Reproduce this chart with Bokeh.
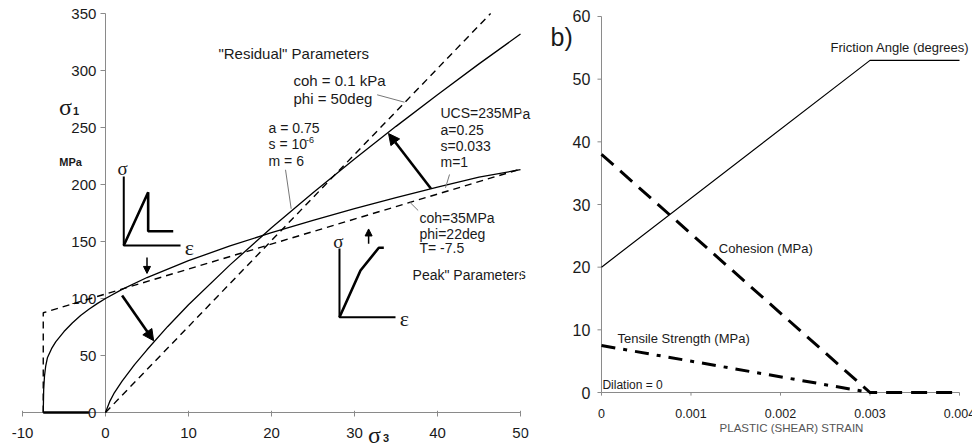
from bokeh.plotting import figure
from bokeh.layouts import row
from bokeh.models import Range1d, Arrow, NormalHead, ColumnDataSource
from bokeh.core.properties import value
from bokeh.embed import file_html
from bokeh.resources import INLINE

# ---------------- panel a) data (sigma3, sigma1 in MPa) ----------------
a_xticks = [-10, 0, 10, 20, 30, 40, 50]
a_xlabels = ["-10", "0", "10", "20", "30", "40", "50"]
a_yticks = [0, 50, 100, 150, 200, 250, 300, 350]
a_ylabels = ["0", "50", "100", "150", "200", "250", "300", "350"]

# peak Mohr-Coulomb (coh=35MPa, phi=22deg, T=-7.5)
mc_peak_s3 = [-7.5, -7.5, 50]
mc_peak_s1 = [0, 87.5, 213.5]
# residual Mohr-Coulomb (coh=0.1kPa, phi=50deg)
mc_res_s3 = [0, 46.4]
mc_res_s1 = [0, 350]
# peak Hoek-Brown (UCS=235MPa, a=0.25, s=0.033, m=1)
hb_peak_s3 = [-7.5, -7.45, -7.35, -7.2, -7.0, -6.5, -6, -5, -4, -3, -2, -1, 0, 2, 5, 10, 15, 20, 25, 30, 35, 40, 45, 50]
hb_peak_s1 = [0, 20, 32, 41, 48, 56, 62, 71, 78.5, 85, 90.5, 95.5, 100, 108, 118.4, 133.2, 146.1, 157.8, 168.6, 178.8, 188.5, 197.8, 206.5, 213]
# residual Hoek-Brown (a=0.75, s=1e-6, m=6)
hb_res_s3 = [0, 0.5, 1, 2, 3.5, 5, 7.5, 10, 15, 20, 25, 30, 35, 40, 45, 50]
hb_res_s1 = [0, 9.5, 16.5, 27.5, 42, 55, 75.5, 94.5, 129.5, 162, 192.8, 222.4, 251, 278.7, 305.8, 332]
# tension cut-off
cut_s3 = [-7.5, -2.0]
cut_s1 = [0, 0]
# arrows (start -> end)
arr_big = dict(x0=[39.2, 2.0], y0=[196.5, 102.6], x1=[34.1, 5.8], y1=[244.7, 63.0])
arr_small = dict(x0=[5.0, 31.7], y0=[136.0, 148.0], x1=[5.0, 31.7], y1=[122.0, 161.0])
# inset sketches
ins1_axes_x = [2.2, 2.2, 9.04]
ins1_axes_y = [207, 146.5, 146.5]
ins1_curve_x = [2.2, 5.14, 5.14, 8.16]
ins1_curve_y = [146.5, 193.2, 159, 159]
ins2_axes_x = [28.19, 28.19, 34.94]
ins2_axes_y = [143.9, 83.6, 83.6]
ins2_curve_x = [28.19, 30.72, 32.93, 33.53]
ins2_curve_y = [83.6, 124.6, 144.5, 144.5]
# leader lines
lead_x0 = [32.73, 21.69, 41.45, 36.66]
lead_y0 = [278.7, 212.9, 208.8, 184.5]
lead_x1 = [36.02, 22.37, 40.96, 37.67]
lead_y1 = [272.2, 178.7, 197.1, 177.2]

# ---------------- panel b) data ----------------
b_strain = [0, 0.003, 0.004]
friction = [20, 53, 53]
cohesion = [38, 0, 0]
tensile_strain = [0, 0.003]
tensile = [7.5, 0]
b_xticks = [0, 0.001, 0.002, 0.003, 0.004]
b_xlabels = ["0", "0.001", "0.002", "0.003", "0.004"]
b_yticks = [0, 10, 20, 30, 40, 50, 60]
b_ylabels = ["0", "10", "20", "30", "40", "50", "60"]

SANS = value("Liberation Sans")
SERIF = value("Liberation Serif")
TXT = "#1a1a1a"
AX = "#8a8a8a"


def txt(p, xs, ys, labels, size, align="left", font=SANS, style="normal", color=TXT):
    p.text(x=xs, y=ys, text=labels, text_font=font, text_font_size=value(size),
           text_font_style=style, text_align=align, text_baseline="middle", text_color=color)


# ================= panel a =================
p1 = figure(width=521, height=443, x_range=Range1d(-12.651, 50.120),
            y_range=Range1d(-27.19, 361.404), min_border=0,
            x_axis_location=None, y_axis_location=None,
            output_backend="svg", toolbar_location=None)
p1.grid.visible = False
p1.outline_line_color = None

# axes drawn at sigma1 = 0 and sigma3 = 0
p1.segment(x0=[a_xticks[0]], y0=[0], x1=[a_xticks[-1]], y1=[0], line_color=AX, line_width=1)
p1.segment(x0=[0], y0=[a_yticks[0]], x1=[0], y1=[a_yticks[-1]], line_color=AX, line_width=1)
p1.segment(x0=a_xticks, y0=[1.5] * len(a_xticks), x1=a_xticks, y1=[-3.5] * len(a_xticks),
           line_color=AX, line_width=1)
p1.segment(x0=[0] * len(a_yticks), y0=a_yticks, x1=[-0.6] * len(a_yticks), y1=a_yticks,
           line_color=AX, line_width=1)
txt(p1, a_xticks, [-18.4] * len(a_xticks), a_xlabels, "15px", "center")
txt(p1, [-1.1] * len(a_yticks), a_yticks, a_ylabels, "15px", "right")

# envelopes
p1.line(mc_peak_s3, mc_peak_s1, line_color="black", line_width=1.4, line_dash="7 5")
p1.line(mc_res_s3, mc_res_s1, line_color="black", line_width=1.4, line_dash="7 5")
p1.line(hb_peak_s3, hb_peak_s1, line_color="black", line_width=1.3)
p1.line(hb_res_s3, hb_res_s1, line_color="black", line_width=1.3)
p1.line(cut_s3, cut_s1, line_color="black", line_width=2.6)

p1.segment(x0=lead_x0, y0=lead_y0, x1=lead_x1, y1=lead_y1, line_color="#777777", line_width=1)

p1.add_layout(Arrow(source=ColumnDataSource(arr_big), x_start="x0", y_start="y0", x_end="x1", y_end="y1",
                    line_width=2.6, line_color="black",
                    end=NormalHead(size=11, fill_color="black", line_color="black")))
p1.add_layout(Arrow(source=ColumnDataSource(arr_small), x_start="x0", y_start="y0", x_end="x1", y_end="y1",
                    line_width=1.5, line_color="black",
                    end=NormalHead(size=7, fill_color="black", line_color="black")))

# stress-strain sketches
p1.line(ins1_axes_x, ins1_axes_y, line_color="black", line_width=2)
p1.line(ins1_curve_x, ins1_curve_y, line_color="black", line_width=2.6)
p1.line(ins2_axes_x, ins2_axes_y, line_color="black", line_width=2)
p1.line(ins2_curve_x, ins2_curve_y, line_color="black", line_width=2.6)
txt(p1, [2.05, 28.07], [214, 150], ["σ", "σ"], "19px", "center", SERIF)
txt(p1, [10.1, 36.0], [144.7, 82.5], ["ε", "ε"], "22px", "center", SERIF)

# axis symbols
txt(p1, [-4.82], [268.4], ["σ"], "24px", "center", SERIF)
txt(p1, [-3.55], [264.5], ["1"], "11px", "center", SANS, "bold")
txt(p1, [-4.2], [219.3], ["MPa"], "11px", "center", SANS, "bold")
txt(p1, [32.4], [-19.3], ["σ"], "24px", "center", SERIF)
txt(p1, [33.8], [-22.2], ["3"], "11px", "center", SANS, "bold")

# annotations
txt(p1, [13.6], [314.9], ['"Residual" Parameters'], "15px")
txt(p1, [22.65, 22.65], [291.2, 275.4], ["coh = 0.1 kPa", "phi = 50deg"], "15px")
txt(p1, [19.64] * 3, [250.0, 235.1, 220.2], ["a = 0.75", "s = 10", "m = 6"], "14px")
txt(p1, [24.15], [239.0], ["-6"], "9px")
txt(p1, [40.36] * 4, [262.3, 248.2, 234.2, 219.3], ["UCS=235MPa", "a=0.25", "s=0.033", "m=1"], "14px")
txt(p1, [37.83] * 3, [171.0, 157.0, 143.9], ["coh=35MPa", "phi=22deg", "T= -7.5"], "14px")
txt(p1, [37.0], [121.0], ['Peak" Parameters'], "14px")

# ================= panel b =================
p2 = figure(width=451, height=443, x_range=Range1d(-0.00089385, 0.0041453),
            y_range=Range1d(-8.138, 62.553), min_border=0,
            x_axis_location=None, y_axis_location=None,
            output_backend="svg", toolbar_location=None)
p2.grid.visible = False
p2.outline_line_color = None

# axes
p2.segment(x0=[b_xticks[0]], y0=[0], x1=[b_xticks[-1]], y1=[0], line_color=AX, line_width=1)
p2.segment(x0=[0], y0=[b_yticks[0]], x1=[0], y1=[b_yticks[-1]], line_color=AX, line_width=1)
p2.segment(x0=b_xticks, y0=[0] * len(b_xticks), x1=b_xticks, y1=[-0.5] * len(b_xticks),
           line_color=AX, line_width=1)
p2.segment(x0=[0] * len(b_yticks), y0=b_yticks, x1=[-0.000045] * len(b_yticks), y1=b_yticks,
           line_color=AX, line_width=1)
txt(p2, b_xticks, [-3.35] * len(b_xticks), b_xlabels, "12.5px", "center")
txt(p2, [-0.000125] * len(b_yticks), b_yticks, b_ylabels, "16px", "right")
txt(p2, [0.002123], [-5.65], ["PLASTIC (SHEAR) STRAIN"], "11.5px", "center", color="#555555")

p2.line(b_strain, friction, line_color="black", line_width=1.2)
p2.line(b_strain, cohesion, line_color="black", line_width=3, line_dash="16 9")
p2.line(tensile_strain, tensile, line_color="black", line_width=3, line_dash="14 8 4 8")

txt(p2, [0.002559], [55.05], ["Friction Angle (degrees)"], "13px")
txt(p2, [0.001311], [22.93], ["Cohesion (MPa)"], "13px")
txt(p2, [0.000179], [8.57], ["Tensile Strength (MPa)"], "13px")
txt(p2, [0.00001], [1.12], ["Dilation = 0"], "12px")
txt(p2, [-0.00057], [56.65], ["b)"], "25px")

# the parts of panel a) texts that run past its right edge (same page position)
txt(p2, [-0.0017989], [44.52], ["UCS=235MPa"], "14px")
txt(p2, [-0.0021117], [18.83], ['Peak" Parameters'], "14px")
txt(p2, [-0.00090503], [-6.54], ["50"], "15px", "center")

layout = row(p1, p2)
open("out.html", "w").write(file_html(layout, INLINE))
